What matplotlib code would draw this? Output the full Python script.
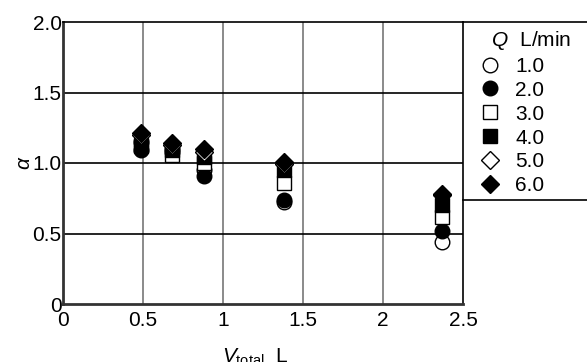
import numpy as np
import matplotlib.pyplot as plt
from matplotlib.lines import Line2D

plt.rcParams['font.family'] = ['Liberation Sans', 'DejaVu Sans']
plt.rcParams['mathtext.fontset'] = 'custom'
plt.rcParams['mathtext.it'] = 'Liberation Sans:italic'
plt.rcParams['mathtext.rm'] = 'Liberation Sans'

# total volume (L) for each flow rate group
v_total = [0.49, 0.68, 0.88, 1.38, 2.37]
flow_labels = ['1.0', '2.0', '3.0', '4.0', '5.0', '6.0']
alpha_q1 = [1.15, 1.08, 0.95, 0.72, 0.44]
alpha_q2 = [1.09, 1.10, 0.91, 0.74, 0.52]
alpha_q3 = [1.13, 1.06, 1.00, 0.86, 0.62]
alpha_q4 = [1.12, 1.09, 1.04, 0.95, 0.70]
alpha_q5 = [1.20, 1.13, 1.08, 0.99, 0.77]
alpha_q6 = [1.21, 1.14, 1.10, 1.01, 0.78]

series = [alpha_q1, alpha_q2, alpha_q3, alpha_q4, alpha_q5, alpha_q6]
markers = ['o', 'o', 's', 's', 'D', 'D']
faces = ['white', 'black', 'white', 'black', 'white', 'black']
sizes = [10.5, 10.5, 10.5, 9.5, 9.0, 9.0]

fig = plt.figure(figsize=(5.87, 3.62), dpi=100)
ax = fig.add_axes([63 / 587, 1 - 304 / 362, 400 / 587, 282 / 362])

for vals, m, fc, ms, lab in zip(series, markers, faces, sizes, flow_labels):
    ax.plot(v_total, vals, linestyle='none', marker=m, markersize=ms,
            markerfacecolor=fc, markeredgecolor='black', markeredgewidth=1.0,
            label=lab, clip_on=False)

ax.set_xlim(0, 2.5)
ax.set_ylim(0, 2.0)
ax.set_xticks([0, 0.5, 1, 1.5, 2, 2.5])
ax.set_xticklabels(['0', '0.5', '1', '1.5', '2', '2.5'])
ax.set_yticks([0, 0.5, 1.0, 1.5, 2.0])
ax.set_yticklabels(['0', '0.5', '1.0', '1.5', '2.0'])
ax.tick_params(length=0, labelsize=15, colors='black')
ax.tick_params(axis='x', pad=5)
ax.tick_params(axis='y', pad=1)
for x in [0.5, 1, 1.5, 2]:
    ax.axvline(x, color='#777777', lw=1.2, zorder=0)
for y in [0.5, 1.0, 1.5]:
    ax.axhline(y, color='black', lw=1.2, zorder=0)
for s in ['left', 'bottom']:
    ax.spines[s].set_linewidth(2)
    ax.spines[s].set_color('#333333')
for s in ['top', 'right']:
    ax.spines[s].set_linewidth(1.2)

ax.set_ylabel(r'$\alpha$', fontsize=15, labelpad=-1)
ax.set_xlabel(r'$V_{\mathrm{total}}$  L', fontsize=15)
ax.xaxis.set_label_coords(0.48, -0.15)

# legend box: left edge on the right spine, open to the right side
fig.add_artist(Line2D([463 / 587, 1.0], [1 - 22 / 362, 1 - 22 / 362], color='black', lw=1.2))
fig.add_artist(Line2D([463 / 587, 1.0], [1 - 200 / 362, 1 - 200 / 362], color='black', lw=1.2))

leg = fig.legend(loc='upper left', bbox_to_anchor=(480 / 587, 1 - 29 / 362),
                 frameon=False, fontsize=15, title=r'  $Q$  L/min', title_fontsize=15,
                 handletextpad=0.68, labelspacing=0.235, handlelength=1.0,
                 borderpad=0.0, borderaxespad=0)
leg._legend_box.align = 'left'

fig.savefig('out.png', dpi=100)
